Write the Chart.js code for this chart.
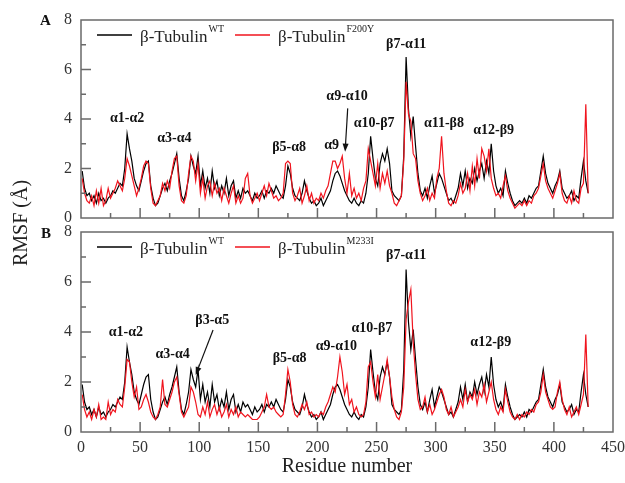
<!DOCTYPE html>
<html>
<head>
<meta charset="utf-8">
<script src="https://cdn.jsdelivr.net/npm/chart.js@4.4.1/dist/chart.umd.min.js"></script>
<style>
  html, body { margin: 0; padding: 0; background: #fff; }
  #wrap { position: relative; width: 625px; height: 483px; overflow: hidden; }
  #wrap canvas { position: absolute; left: 0; }
  #chartA { top: 0; }
  #chartB { top: 222px; }
  .panel { position: absolute; font: bold 15px "Liberation Serif", serif; color: #111; }
  #ytitle { position: absolute; left: 20px; top: 223px; transform: translate(-50%, -50%) rotate(-90deg);
            font: 20px "Liberation Serif", serif; color: #222; white-space: nowrap; }
</style>
</head>
<body>
<div id="wrap">
  <canvas id="chartA" width="625" height="222"></canvas>
  <canvas id="chartB" width="625" height="261"></canvas>
  <div class="panel" style="left:40px; top:12px;">A</div>
  <div class="panel" style="left:41px; top:225px;">B</div>
  <div id="ytitle">RMSF (Å)</div>
</div>
<script>
// residue index, every second residue 1..429
const residues = Array.from({ length: 215 }, (_, i) => 1 + 2 * i);

// β-Tubulin WT (same trace in both panels)
const wtRmsf = [
  1.9, 1.2, 0.9, 1.0, 0.7, 0.9, 0.6, 1.0, 0.7, 0.8,
  0.6, 0.8, 0.9, 1.1, 1.0, 1.2, 1.4, 1.3, 2.0, 3.4,
  2.8, 2.3, 1.6, 1.3, 1.1, 1.5, 1.9, 2.2, 2.3, 1.3,
  0.8, 0.5, 0.6, 0.9, 1.2, 1.4, 1.1, 1.5, 1.8, 2.2,
  2.6, 1.6, 0.9, 0.7, 1.1, 1.6, 2.5, 2.1, 1.8, 2.5,
  1.3, 1.9, 1.2, 1.6, 1.0, 1.9, 1.2, 1.5, 0.9, 1.3,
  1.0, 1.6, 0.9, 1.3, 1.5, 0.8, 1.1, 0.8, 1.2, 1.0,
  1.1, 0.9, 0.7, 1.0, 0.8, 0.9, 1.1, 0.8, 1.1, 1.0,
  1.2, 1.0, 1.3, 1.1, 0.9, 0.8, 1.3, 2.1, 1.8, 1.2,
  0.9, 0.8, 0.7, 1.0, 1.5, 1.1, 0.8, 0.6, 0.7, 0.5,
  0.6, 0.8, 0.5, 0.7, 0.9, 1.1, 1.5, 1.8, 1.9, 1.7,
  1.4, 1.1, 0.9, 0.7, 0.6, 0.8, 0.6, 0.5, 0.7, 0.6,
  1.0, 1.8, 3.3, 2.4, 1.6, 1.3, 2.2, 2.6, 2.3, 2.8,
  2.2, 1.1, 0.9, 0.8, 0.7, 0.9, 2.5, 6.5, 4.4, 3.3,
  4.1, 2.9, 1.8, 1.1, 0.9, 1.2, 0.8, 1.3, 1.7, 1.0,
  1.4, 1.8, 1.6, 1.3, 1.0, 0.7, 0.8, 0.6, 0.9, 1.2,
  1.8, 1.3, 1.9, 1.2, 1.6, 1.4, 2.0, 1.5, 1.9, 2.2,
  1.6, 2.3, 1.8, 3.0, 1.9, 1.3, 1.0, 1.2, 0.9, 1.9,
  1.4, 1.0, 0.7, 0.5, 0.6, 0.7, 0.6, 0.8, 0.6, 0.9,
  0.8, 1.0, 1.2, 1.3, 1.9, 2.5, 1.8, 1.4, 1.2, 1.0,
  1.3, 1.5, 1.9, 1.2, 1.0, 0.8, 0.9, 1.1, 0.7, 0.9,
  0.8, 1.6, 2.3, 1.5, 1.0
];

// β-Tubulin F200Y (panel A)
const f200yRmsf = [
  1.6, 1.0, 0.7, 0.6, 0.9, 0.5, 1.1, 0.6, 1.2, 0.5,
  0.7, 1.2, 0.8, 1.0, 1.2, 1.5, 1.3, 1.1, 1.6, 2.4,
  2.1, 1.7, 1.3, 0.9, 1.2, 1.6, 2.1, 2.3, 2.2, 1.2,
  0.6, 0.5, 0.7, 0.9, 1.4, 1.1, 1.5, 1.2, 1.9, 2.4,
  2.5, 1.3, 0.7, 0.6, 0.9, 1.8, 2.5, 2.3, 1.5, 2.2,
  1.0, 1.6, 0.8, 1.3, 1.5, 0.9, 1.4, 1.0, 1.2, 0.7,
  1.2, 0.9, 0.6, 1.0, 1.3, 0.6, 0.9, 0.6, 0.8, 1.6,
  1.8, 0.9, 0.6, 0.8, 1.0, 0.7, 1.0, 1.3, 0.9, 1.4,
  1.1, 0.8, 0.9, 0.7, 0.8, 1.0, 2.2, 2.3, 2.2, 1.0,
  0.7, 0.9, 1.2, 0.6, 0.9, 1.3, 0.7, 1.0, 0.6, 0.8,
  0.7, 1.0, 0.8, 1.1, 1.3, 1.8, 2.3, 2.3, 2.0, 2.2,
  2.5, 1.6, 1.0, 1.8, 0.9, 1.2, 0.8, 1.0, 0.7, 1.2,
  1.5, 2.8, 2.3, 1.8, 1.3, 2.2, 1.2, 1.8, 1.4, 1.9,
  1.3, 1.0, 0.6, 0.5, 0.7, 0.9, 2.3, 5.5, 4.2, 3.9,
  2.6, 2.4, 1.5, 1.0, 0.7, 0.9, 1.2, 0.7, 1.0, 0.8,
  1.6, 2.0, 3.3, 1.8, 1.1, 0.6, 0.5, 0.7, 0.6, 0.9,
  1.4, 1.0, 1.2, 1.8, 1.1, 2.1, 1.3, 2.4, 1.6, 2.8,
  2.5, 1.9, 2.8, 1.6, 1.2, 0.9, 1.0, 0.8, 1.3, 1.7,
  1.1, 0.8, 0.6, 0.4, 0.5, 0.6, 0.5, 0.7, 0.5, 0.7,
  0.6, 0.9, 1.0, 1.2, 1.7, 2.2, 1.5, 1.2, 1.0, 0.8,
  1.1, 1.4, 1.8, 1.0, 0.7, 0.6, 0.9, 0.6, 1.1, 0.7,
  0.6, 1.2, 1.4, 4.6, 1.0
];

// β-Tubulin M233I (panel B)
const m233iRmsf = [
  1.5, 0.9, 0.6, 0.8, 0.5, 0.9, 0.6, 1.1, 0.5, 0.6,
  0.5, 1.2, 0.7, 0.9, 0.8, 1.3, 1.1, 1.0, 1.8, 2.9,
  2.8, 2.0, 1.4, 1.8, 0.9, 1.0, 1.3, 1.5, 1.2, 0.8,
  0.6, 0.5, 0.7, 1.0, 2.1, 1.1, 1.0, 1.3, 1.6, 2.0,
  2.2, 1.5, 0.8, 0.6, 0.8, 1.0, 1.8, 1.6, 1.2, 0.7,
  0.6, 1.0, 0.7, 1.2, 0.6, 0.9, 1.1, 0.7, 1.0, 0.6,
  0.8, 1.1, 0.6, 0.9, 0.7, 1.0, 0.6, 0.8, 0.7, 0.6,
  0.7, 0.6, 0.5, 0.5, 0.5, 0.6, 0.8, 1.0, 1.5, 1.0,
  0.9, 1.0, 0.8, 0.7, 0.6, 0.7, 1.5, 2.5, 2.0, 1.1,
  0.7, 0.6, 0.8, 1.1, 0.9, 1.2, 0.7, 0.8, 0.6, 0.7,
  0.6, 0.8, 0.7, 1.0, 1.2, 1.5, 1.8, 1.6, 2.2, 3.0,
  2.4, 1.5, 1.9, 1.1, 1.3, 0.8, 1.0, 0.7, 0.6, 0.7,
  1.2, 2.6, 2.8, 2.0, 1.4, 2.3, 1.3, 1.8, 2.3, 2.9,
  2.2, 1.4, 0.9, 0.6, 0.5, 0.8, 1.8, 4.5, 5.2, 5.7,
  3.6, 2.3, 1.3, 0.9, 1.0, 1.4, 0.8, 1.1, 0.7, 0.9,
  1.2, 1.5, 1.7, 1.4, 0.9, 0.7, 1.0, 0.6, 0.8, 1.0,
  1.3, 1.0, 1.7, 1.2, 1.5, 1.3, 1.7, 1.1, 1.6, 1.4,
  1.9, 1.2, 1.6, 2.0, 1.3, 0.9, 0.7, 1.0, 0.8, 1.7,
  1.2, 0.8, 0.6, 0.5, 0.7, 0.5, 0.7, 0.6, 0.8, 0.7,
  0.9, 0.8, 1.1, 1.2, 1.6, 2.3, 1.6, 1.3, 1.0, 0.9,
  1.0, 1.6, 2.0, 1.3, 0.9, 0.7, 1.0, 0.6, 0.8, 1.0,
  0.7, 1.1, 1.5, 3.9, 1.0
];

// region labels (data coordinates)
const notesA = [
  { text: 'α1-α2', x: 39, y: 4.03 },
  { text: 'α3-α4', x: 79, y: 3.22 },
  { text: 'β5-α8', x: 176, y: 2.84 },
  { text: 'α9', x: 212, y: 2.92 },
  { text: 'α9-α10', x: 225, y: 4.93 },
  { text: 'α10-β7', x: 248, y: 3.84 },
  { text: 'β7-α11', x: 275, y: 7.03 },
  { text: 'α11-β8', x: 307, y: 3.84 },
  { text: 'α12-β9', x: 349, y: 3.52 }
];
const arrowsA = [{ from: [225.6, 4.43], to: [223.4, 2.68] }];

const notesB = [
  { text: 'α1-α2', x: 38, y: 3.97 },
  { text: 'α3-α4', x: 77.5, y: 3.12 },
  { text: 'β3-α5', x: 111, y: 4.48 },
  { text: 'β5-α8', x: 176.5, y: 2.96 },
  { text: 'α9-α10', x: 216, y: 3.44 },
  { text: 'α10-β7', x: 246, y: 4.16 },
  { text: 'β7-α11', x: 275, y: 7.08 },
  { text: 'α12-β9', x: 346.6, y: 3.57 }
];
const arrowsB = [{ from: [111.7, 4.08], to: [97, 2.28] }];

const serif = '"Liberation Serif", "Times New Roman", serif';
const frameColor = '#6a6a6a';

// frame box, inward ticks, legend with superscripts, region labels and arrows
const decorPlugin = {
  id: 'decor',
  afterDatasetsDraw(chart, args, opts) {
    const { ctx, chartArea: a, scales: { x, y } } = chart;
    ctx.save();
    ctx.strokeStyle = frameColor;
    ctx.lineWidth = 1.5;
    ctx.strokeRect(a.left, a.top, a.right - a.left, a.bottom - a.top);

    ctx.beginPath();
    for (let v = 25; v < 450; v += 25) {
      const px = x.getPixelForValue(v);
      const len = v % 50 === 0 ? 10 : 5;
      ctx.moveTo(px, a.bottom);
      ctx.lineTo(px, a.bottom - len);
    }
    for (let v = 1; v < 8; v += 1) {
      const py = y.getPixelForValue(v);
      const len = v % 2 === 0 ? 10 : 5;
      ctx.moveTo(a.left, py);
      ctx.lineTo(a.left + len, py);
    }
    ctx.stroke();

    // legend
    const ly = a.top + 15;
    const items = [
      { color: '#000', x0: 16, sup: 'WT' },
      { color: '#f0141e', x0: 154, sup: opts.mutant }
    ];
    items.forEach(it => {
      ctx.strokeStyle = it.color;
      ctx.lineWidth = 1.4;
      ctx.beginPath();
      ctx.moveTo(a.left + it.x0, ly);
      ctx.lineTo(a.left + it.x0 + 35, ly);
      ctx.stroke();
      ctx.fillStyle = '#222';
      ctx.textBaseline = 'alphabetic';
      ctx.textAlign = 'left';
      ctx.font = '17px ' + serif;
      const tx = a.left + it.x0 + 43;
      ctx.fillText('β-Tubulin', tx, ly + 7);
      const w = ctx.measureText('β-Tubulin').width;
      ctx.font = '10px ' + serif;
      ctx.fillText(it.sup, tx + w + 1, ly - 3);
    });

    // region labels
    ctx.fillStyle = '#111';
    ctx.font = 'bold 14px ' + serif;
    ctx.textAlign = 'center';
    ctx.textBaseline = 'middle';
    opts.notes.forEach(n => {
      ctx.fillText(n.text, x.getPixelForValue(n.x), y.getPixelForValue(n.y));
    });

    // arrows
    ctx.strokeStyle = '#111';
    ctx.fillStyle = '#111';
    ctx.lineWidth = 1.2;
    opts.arrows.forEach(ar => {
      const x1 = x.getPixelForValue(ar.from[0]), y1 = y.getPixelForValue(ar.from[1]);
      const x2 = x.getPixelForValue(ar.to[0]), y2 = y.getPixelForValue(ar.to[1]);
      const ang = Math.atan2(y2 - y1, x2 - x1);
      ctx.beginPath();
      ctx.moveTo(x1, y1);
      ctx.lineTo(x2 - 6 * Math.cos(ang), y2 - 6 * Math.sin(ang));
      ctx.stroke();
      ctx.beginPath();
      ctx.moveTo(x2, y2);
      ctx.lineTo(x2 - 8 * Math.cos(ang) + 3 * Math.sin(ang), y2 - 8 * Math.sin(ang) - 3 * Math.cos(ang));
      ctx.lineTo(x2 - 8 * Math.cos(ang) - 3 * Math.sin(ang), y2 - 8 * Math.sin(ang) + 3 * Math.cos(ang));
      ctx.closePath();
      ctx.fill();
    });
    ctx.restore();
  }
};

function points(values) {
  return residues.map((r, i) => ({ x: r, y: values[i] }));
}

function makePanel(canvasId, mutantValues, mutant, notes, arrows, bottomAxis) {
  const ctx = document.getElementById(canvasId).getContext('2d');
  return new Chart(ctx, {
    type: 'line',
    data: {
      datasets: [
        { label: 'β-Tubulin ' + mutant, data: points(mutantValues), borderColor: '#f0141e',
          borderWidth: 1.2, pointRadius: 0, tension: 0, order: 0 },
        { label: 'β-Tubulin WT', data: points(wtRmsf), borderColor: '#000',
          borderWidth: 1.2, pointRadius: 0, tension: 0, order: 1 }
      ]
    },
    options: {
      responsive: false,
      animation: false,
      events: [],
      layout: { padding: { left: 0, right: 12, top: bottomAxis ? 10 : 20, bottom: 0 } },
      plugins: {
        legend: { display: false },
        tooltip: { enabled: false },
        decor: { notes, arrows, mutant }
      },
      scales: {
        x: {
          type: 'linear', min: 0, max: 450,
          grid: { display: false, drawTicks: false, tickLength: 0 },
          border: { display: false },
          ticks: { display: bottomAxis, stepSize: 50, color: '#333', padding: 6,
                   font: { family: serif, size: 16 } },
          title: { display: bottomAxis, text: 'Residue number', color: '#222',
                   font: { family: serif, size: 20 }, padding: { top: 0, bottom: 4 } },
          afterFit(scale) {
            scale.height = bottomAxis ? 51 : 4;
            scale.paddingLeft = 0; scale.paddingRight = 0;
          }
        },
        y: {
          min: 0, max: 8,
          grid: { display: false, drawTicks: false, tickLength: 0 },
          border: { display: false },
          ticks: { stepSize: 2, color: '#333', padding: 9, font: { family: serif, size: 16 } },
          afterFit(scale) {
            scale.width = 81;
            scale.paddingTop = 0; scale.paddingBottom = 0;
          }
        }
      }
    },
    plugins: [decorPlugin]
  });
}

makePanel('chartA', f200yRmsf, 'F200Y', notesA, arrowsA, false);
makePanel('chartB', m233iRmsf, 'M233I', notesB, arrowsB, true);
</script>
</body>
</html>
